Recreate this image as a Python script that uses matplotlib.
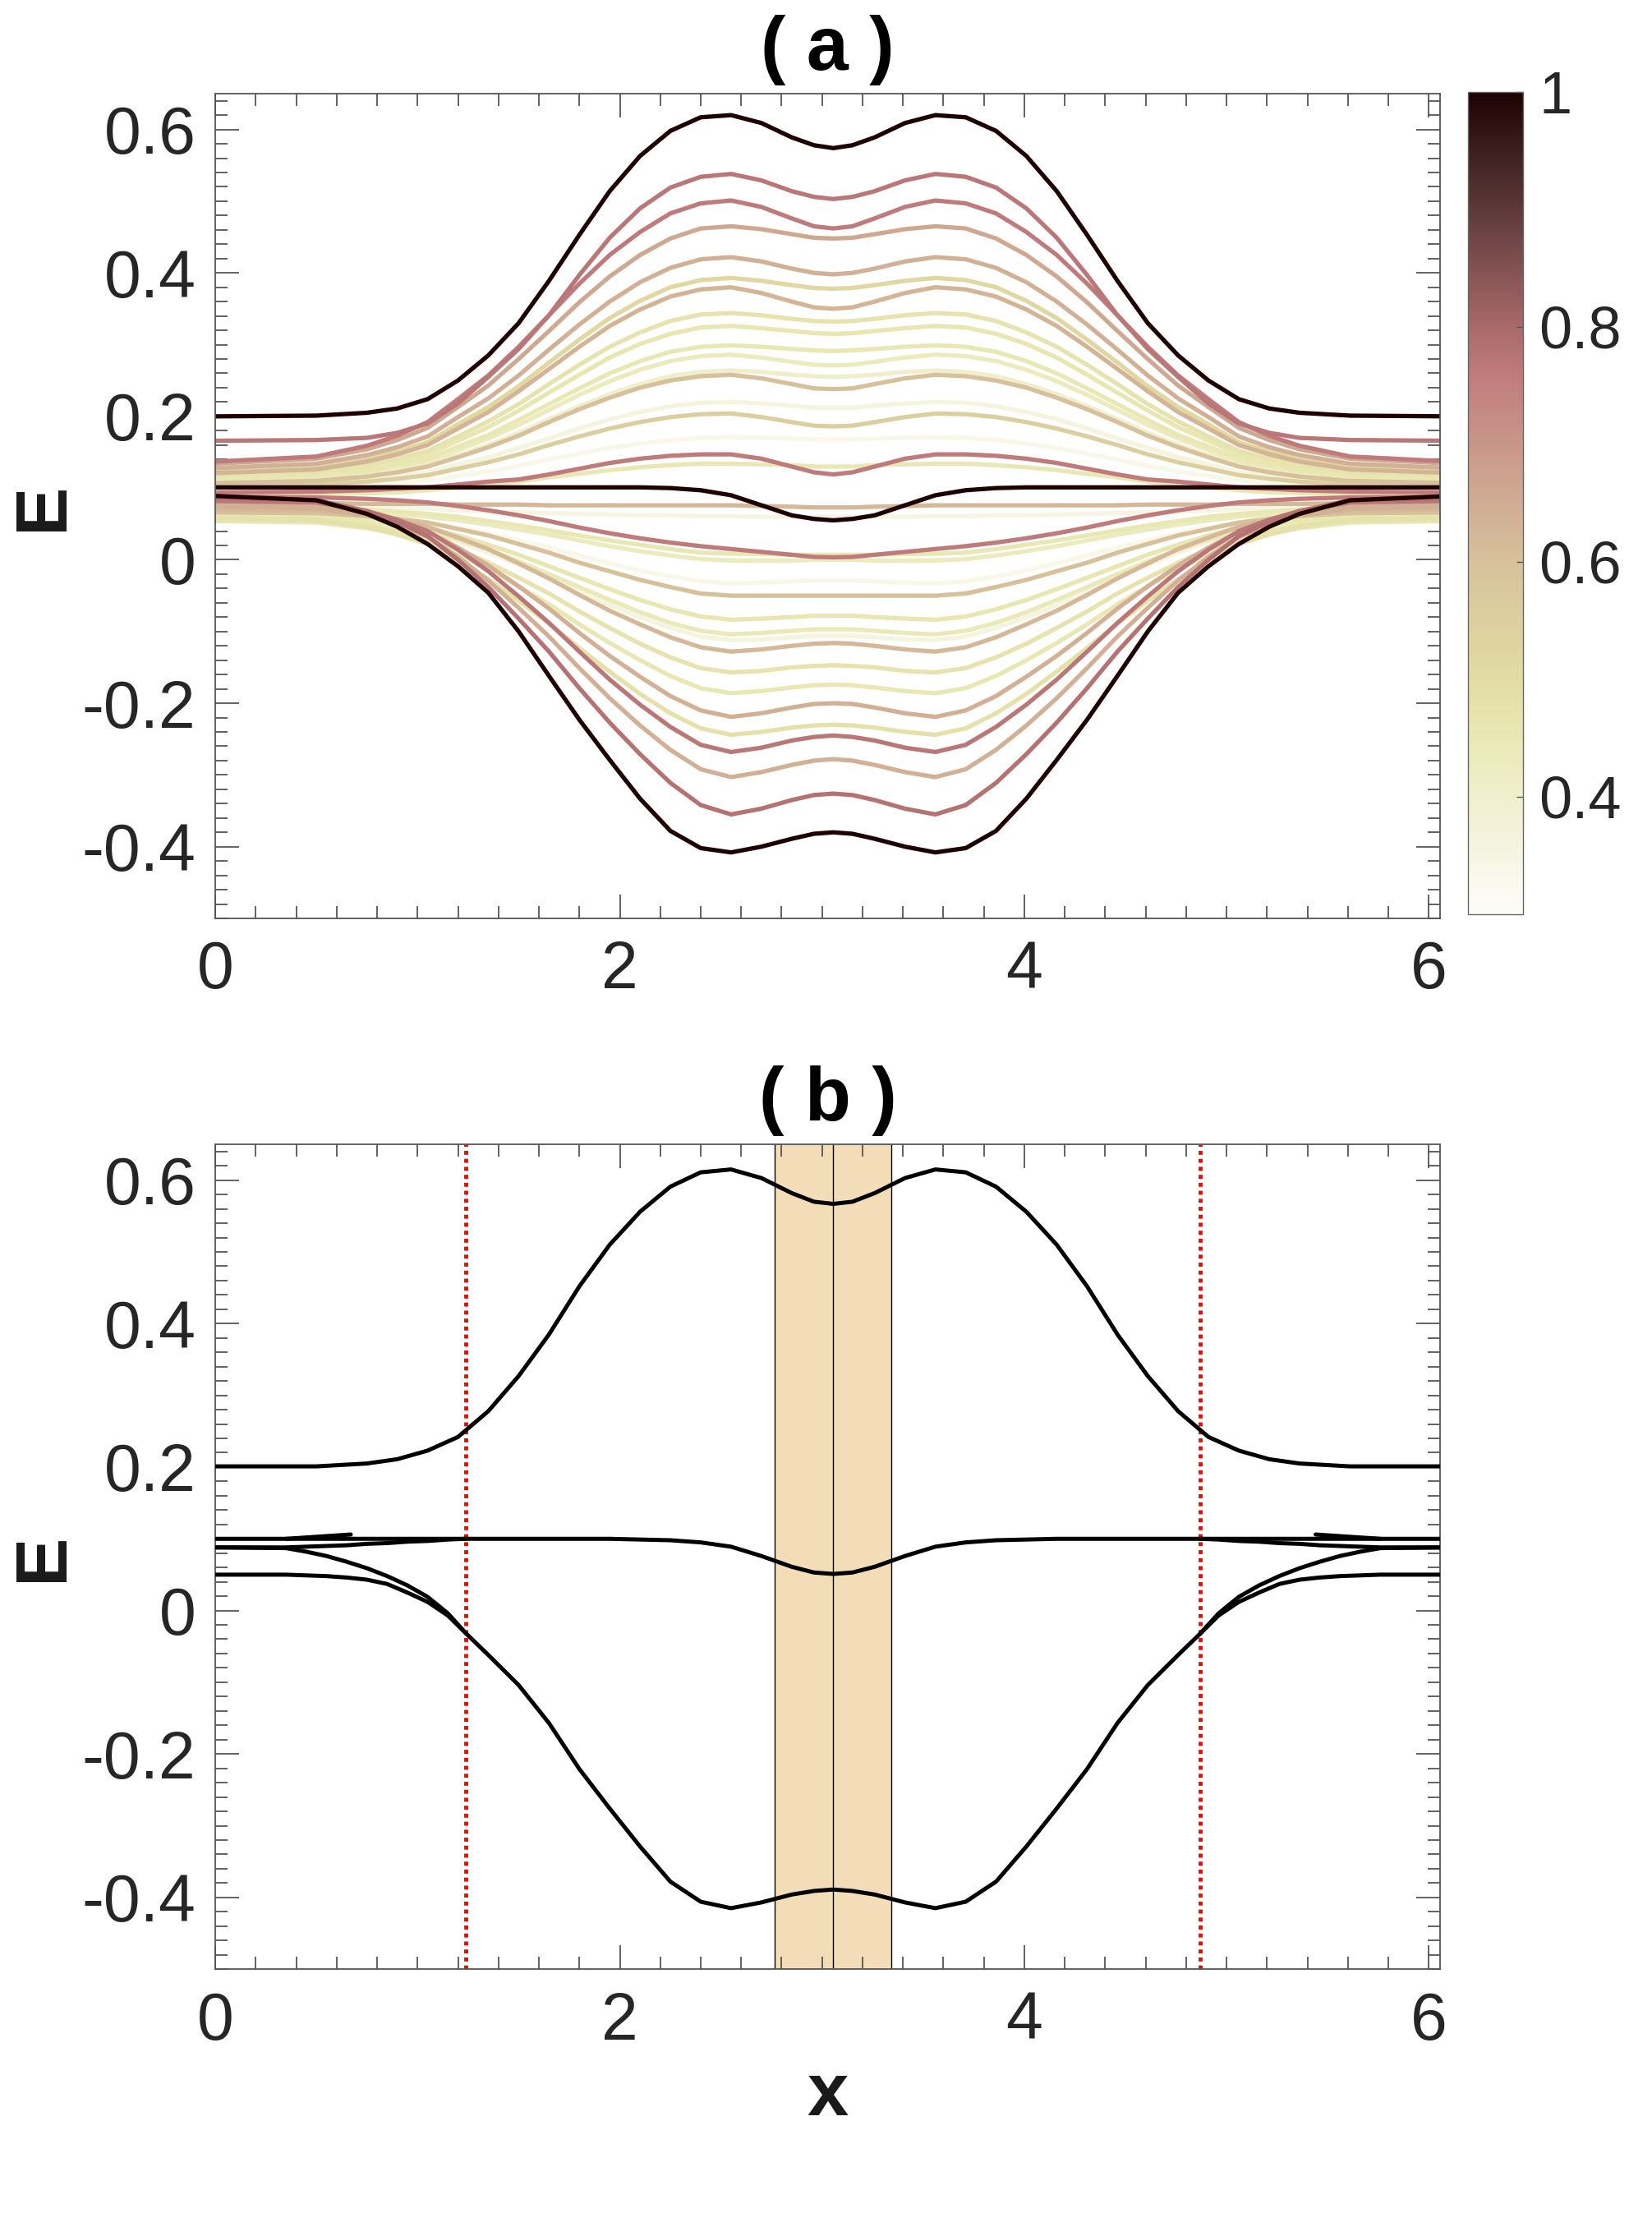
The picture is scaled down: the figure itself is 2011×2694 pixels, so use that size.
import numpy as np
import matplotlib
matplotlib.use('Agg')
import matplotlib.pyplot as plt
from matplotlib.colors import LinearSegmentedColormap, Normalize
from matplotlib.ticker import MultipleLocator, FixedLocator, FixedFormatter
from matplotlib.cm import ScalarMappable

plt.rcParams['font.family'] = ['Liberation Sans', 'DejaVu Sans']
plt.rcParams['axes.unicode_minus'] = False

# curves are symmetric about x = X_CENTER, values read on the left half
X_CENTER = 3.055
X_HALF = [0.0, 0.5, 0.75, 0.9, 1.05, 1.2, 1.35, 1.5, 1.65, 1.8, 1.95,
          2.1, 2.25, 2.4, 2.55, 2.7, 2.85, 2.96, 3.055]

# ---- panel (a): colour value of each curve and E at X_HALF ----
upper_w = [1.00, 0.77, 0.76, 0.66, 0.64, 0.52, 0.63, 0.47, 0.46,
           0.45, 0.43, 0.40, 0.60, 0.36, 0.55, 0.34, 0.76, 0.45]
upper_E = [
    [0.200, 0.201, 0.205, 0.211, 0.224, 0.250, 0.285, 0.330, 0.389, 0.453, 0.514, 0.563, 0.598, 0.617, 0.620, 0.609, 0.589, 0.578, 0.574],
    [0.166, 0.167, 0.170, 0.177, 0.190, 0.218, 0.255, 0.294, 0.341, 0.397, 0.449, 0.490, 0.519, 0.534, 0.538, 0.529, 0.514, 0.506, 0.503],
    [0.137, 0.144, 0.159, 0.173, 0.192, 0.224, 0.257, 0.297, 0.341, 0.385, 0.425, 0.457, 0.483, 0.497, 0.501, 0.492, 0.476, 0.465, 0.462],
    [0.134, 0.141, 0.154, 0.167, 0.184, 0.213, 0.243, 0.280, 0.319, 0.359, 0.395, 0.425, 0.448, 0.462, 0.465, 0.461, 0.454, 0.449, 0.448],
    [0.128, 0.134, 0.146, 0.157, 0.172, 0.199, 0.225, 0.257, 0.293, 0.328, 0.360, 0.387, 0.407, 0.419, 0.422, 0.416, 0.406, 0.400, 0.398],
    [0.124, 0.129, 0.140, 0.151, 0.164, 0.189, 0.213, 0.242, 0.275, 0.307, 0.337, 0.361, 0.380, 0.390, 0.393, 0.389, 0.383, 0.379, 0.378],
    [0.121, 0.126, 0.137, 0.147, 0.160, 0.183, 0.206, 0.235, 0.266, 0.297, 0.326, 0.349, 0.367, 0.377, 0.380, 0.372, 0.360, 0.352, 0.350],
    [0.118, 0.123, 0.132, 0.141, 0.152, 0.172, 0.193, 0.217, 0.245, 0.272, 0.297, 0.317, 0.333, 0.342, 0.344, 0.341, 0.336, 0.333, 0.332],
    [0.115, 0.119, 0.128, 0.136, 0.147, 0.166, 0.185, 0.208, 0.233, 0.258, 0.282, 0.301, 0.315, 0.324, 0.326, 0.323, 0.319, 0.316, 0.315],
    [0.113, 0.117, 0.124, 0.132, 0.141, 0.158, 0.174, 0.195, 0.217, 0.239, 0.260, 0.277, 0.290, 0.297, 0.299, 0.297, 0.294, 0.292, 0.291],
    [0.111, 0.115, 0.122, 0.129, 0.137, 0.153, 0.169, 0.188, 0.209, 0.230, 0.249, 0.265, 0.277, 0.284, 0.286, 0.282, 0.276, 0.272, 0.271],
    [0.109, 0.112, 0.118, 0.125, 0.132, 0.146, 0.160, 0.177, 0.196, 0.214, 0.231, 0.245, 0.256, 0.262, 0.264, 0.262, 0.258, 0.256, 0.255],
    [0.107, 0.110, 0.116, 0.122, 0.130, 0.143, 0.157, 0.173, 0.192, 0.210, 0.226, 0.240, 0.250, 0.256, 0.258, 0.253, 0.245, 0.239, 0.238],
    [0.105, 0.107, 0.112, 0.117, 0.122, 0.133, 0.143, 0.156, 0.169, 0.183, 0.196, 0.206, 0.214, 0.219, 0.220, 0.218, 0.215, 0.212, 0.212],
    [0.103, 0.105, 0.109, 0.113, 0.118, 0.127, 0.136, 0.147, 0.160, 0.172, 0.183, 0.192, 0.199, 0.203, 0.204, 0.199, 0.192, 0.187, 0.186],
    [0.100, 0.101, 0.104, 0.107, 0.111, 0.117, 0.123, 0.131, 0.140, 0.148, 0.156, 0.162, 0.167, 0.170, 0.171, 0.170, 0.169, 0.168, 0.168],
    [0.094, 0.095, 0.097, 0.099, 0.101, 0.105, 0.109, 0.112, 0.119, 0.127, 0.135, 0.141, 0.145, 0.147, 0.147, 0.141, 0.130, 0.122, 0.119],
    [0.090, 0.091, 0.093, 0.094, 0.097, 0.101, 0.105, 0.109, 0.115, 0.120, 0.125, 0.129, 0.132, 0.134, 0.134, 0.133, 0.132, 0.130, 0.130],
]

middle_w = [1.00, 0.62, 0.35]
middle_E = [
    [0.101, 0.101, 0.101, 0.101, 0.101, 0.101, 0.101, 0.101, 0.101, 0.101, 0.101, 0.101, 0.100, 0.097, 0.090, 0.076, 0.062, 0.057, 0.055],
    [0.079, 0.079, 0.078, 0.078, 0.078, 0.077, 0.077, 0.077, 0.076, 0.076, 0.076, 0.076, 0.076, 0.076, 0.076, 0.075, 0.074, 0.073, 0.073],
    [0.074, 0.074, 0.073, 0.072, 0.071, 0.069, 0.067, 0.066, 0.065, 0.064, 0.063, 0.062, 0.062, 0.061, 0.061, 0.060, 0.060, 0.060, 0.060],
]

lower_w = [0.76, 0.45, 0.43, 0.34, 0.60, 0.46, 0.44, 0.36, 0.62,
           0.47, 0.45, 0.64, 0.48, 0.77, 0.64, 0.78, 1.00]
lower_E = [
    [0.088, 0.087, 0.085, 0.083, 0.080, 0.075, 0.069, 0.062, 0.054, 0.045, 0.037, 0.030, 0.024, 0.019, 0.015, 0.011, 0.007, 0.004, 0.0035],
    [0.072, 0.072, 0.070, 0.067, 0.064, 0.060, 0.054, 0.048, 0.041, 0.034, 0.027, 0.021, 0.015, 0.010, 0.0085, 0.008, 0.007, 0.007, 0.007],
    [0.068, 0.068, 0.065, 0.063, 0.060, 0.055, 0.049, 0.042, 0.035, 0.027, 0.019, 0.012, 0.006, 0.001, -0.001, -0.001, -0.001, 0.000, 0.000],
    [0.064, 0.063, 0.060, 0.057, 0.052, 0.045, 0.037, 0.027, 0.017, 0.006, -0.005, -0.015, -0.023, -0.030, -0.033, -0.032, -0.030, -0.029, -0.029],
    [0.066, 0.065, 0.061, 0.057, 0.052, 0.043, 0.034, 0.022, 0.010, -0.004, -0.016, -0.028, -0.038, -0.047, -0.050, -0.050, -0.050, -0.050, -0.050],
    [0.062, 0.061, 0.056, 0.051, 0.045, 0.034, 0.021, 0.007, -0.009, -0.025, -0.041, -0.056, -0.069, -0.079, -0.0835, -0.082, -0.080, -0.078, -0.078],
    [0.060, 0.059, 0.053, 0.048, 0.040, 0.028, 0.014, -0.002, -0.020, -0.038, -0.056, -0.073, -0.088, -0.099, -0.104, -0.102, -0.099, -0.097, -0.097],
    [0.058, 0.057, 0.051, 0.045, 0.038, 0.025, 0.010, -0.007, -0.025, -0.044, -0.063, -0.080, -0.095, -0.107, -0.112, -0.111, -0.108, -0.106, -0.106],
    [0.070, 0.069, 0.062, 0.055, 0.046, 0.031, 0.015, -0.005, -0.026, -0.049, -0.071, -0.090, -0.108, -0.122, -0.128, -0.125, -0.120, -0.117, -0.116],
    [0.056, 0.055, 0.048, 0.040, 0.030, 0.015, -0.004, -0.025, -0.047, -0.072, -0.095, -0.117, -0.136, -0.151, -0.157, -0.155, -0.150, -0.148, -0.147],
    [0.054, 0.052, 0.044, 0.036, 0.025, 0.007, -0.013, -0.037, -0.062, -0.090, -0.116, -0.140, -0.162, -0.179, -0.186, -0.183, -0.178, -0.175, -0.174],
    [0.074, 0.072, 0.062, 0.052, 0.039, 0.017, -0.008, -0.037, -0.068, -0.102, -0.134, -0.163, -0.190, -0.210, -0.219, -0.214, -0.206, -0.201, -0.200],
    [0.058, 0.056, 0.046, 0.035, 0.022, -0.001, -0.027, -0.057, -0.089, -0.123, -0.156, -0.187, -0.214, -0.235, -0.244, -0.240, -0.234, -0.231, -0.230],
    [0.082, 0.080, 0.068, 0.056, 0.040, 0.014, -0.016, -0.051, -0.088, -0.128, -0.167, -0.202, -0.233, -0.258, -0.268, -0.262, -0.252, -0.247, -0.245],
    [0.078, 0.075, 0.063, 0.049, 0.032, 0.004, -0.029, -0.067, -0.107, -0.151, -0.193, -0.231, -0.265, -0.292, -0.303, -0.296, -0.286, -0.280, -0.278],
    [0.086, 0.083, 0.068, 0.053, 0.033, 0.000, -0.038, -0.082, -0.128, -0.179, -0.227, -0.271, -0.311, -0.342, -0.355, -0.347, -0.335, -0.328, -0.326],
    [0.089, 0.083, 0.064, 0.046, 0.022, -0.009, -0.046, -0.100, -0.162, -0.223, -0.279, -0.333, -0.378, -0.402, -0.408, -0.400, -0.389, -0.382, -0.380],
]

# ---- panel (b) ----
b_top = [0.201, 0.201, 0.205, 0.211, 0.223, 0.242, 0.278, 0.327, 0.385, 0.452, 0.510, 0.556, 0.591, 0.611, 0.615, 0.603, 0.582, 0.570, 0.567]
b_mid = [0.100, 0.100, 0.100, 0.100, 0.100, 0.100, 0.100, 0.100, 0.100, 0.100, 0.100, 0.099, 0.098, 0.095, 0.089, 0.076, 0.061, 0.053, 0.051]
b_low_x = [1.24, 1.35, 1.5, 1.65, 1.8, 1.95, 2.1, 2.25, 2.4, 2.55, 2.7, 2.85, 2.96, 3.055]
b_low = [-0.032, -0.062, -0.104, -0.157, -0.221, -0.276, -0.329, -0.378, -0.406, -0.415, -0.407, -0.396, -0.391, -0.389]
b_branch_x = [0.0, 0.35, 0.45, 0.55, 0.65, 0.75, 0.85, 0.95, 1.05, 1.15, 1.24]
b_branch_up = [0.088, 0.088, 0.089, 0.090, 0.091, 0.093, 0.094, 0.096, 0.097, 0.099, 0.100]
b_branch_dn = [0.088, 0.087, 0.082, 0.076, 0.068, 0.059, 0.048, 0.035, 0.019, -0.004, -0.032]
b_branch_lo = [0.050, 0.050, 0.049, 0.048, 0.046, 0.043, 0.037, 0.025, 0.012, -0.007, -0.032]
b_spike_x = [0.35, 0.67]
b_spike = [0.100, 0.106]
red_lines = [1.24, 4.87]
band = [2.767, 3.341]

# colour map (value, colour)
cmap_pts = [(0.30, '#fdfdf8'), (0.35, '#f6f5e3'), (0.40, '#f0efcc'), (0.45, '#e9e8b4'),
            (0.50, '#e2dca4'), (0.55, '#dccf9f'), (0.60, '#d7c19b'), (0.65, '#d0ac93'),
            (0.70, '#c9968a'), (0.76, '#c07b7b'), (0.80, '#a86a6a'), (0.85, '#835252'),
            (0.90, '#5e3a3a'), (0.95, '#3c1f1f'), (1.00, '#1e0202')]
cmap = LinearSegmentedColormap.from_list(
    'wt', [((v - 0.3) / 0.7, c) for v, c in cmap_pts])
norm = Normalize(0.3, 1.0)


def mirror(xs, ys):
    xs = np.asarray(xs, float)
    ys = np.asarray(ys, float)
    xr = 2 * X_CENTER - xs[::-1]
    return np.concatenate([xs, xr[1:]]), np.concatenate([ys, ys[::-1][1:]])


def mirror_side(xs, ys):
    xs = np.asarray(xs, float)
    return 2 * X_CENTER - xs, np.asarray(ys, float)


def style_axes(ax):
    ax.set_xlim(0, 6.055)
    ax.set_ylim(-0.5, 0.65)
    ax.xaxis.set_major_locator(FixedLocator([0, 2, 4, 6]))
    ax.xaxis.set_major_formatter(FixedFormatter(['0', '2', '4', '6']))
    ax.xaxis.set_minor_locator(MultipleLocator(0.2))
    ax.yaxis.set_major_locator(FixedLocator([-0.4, -0.2, 0, 0.2, 0.4, 0.6]))
    ax.yaxis.set_major_formatter(FixedFormatter(['-0.4', '-0.2', '0', '0.2', '0.4', '0.6']))
    ax.yaxis.set_minor_locator(MultipleLocator(0.02))
    ax.tick_params(which='both', direction='in', top=True, right=True,
                   color='#555555', width=1.3)
    ax.tick_params(which='major', length=21)
    ax.tick_params(which='minor', length=11)
    ax.tick_params(axis='x', which='major', pad=19, labelsize=58, labelcolor='#262626')
    ax.tick_params(axis='y', which='major', pad=17, labelsize=58, labelcolor='#262626')
    for s in ax.spines.values():
        s.set_color('#555555')
        s.set_linewidth(1.3)
    ax.set_ylabel('E', fontsize=64, fontweight='bold', color='#1a1a1a')
    ax.yaxis.set_label_coords(-0.112, 0.5)


fig = plt.figure(figsize=(20.11, 26.94), dpi=100)
ax_a = fig.add_axes([0.1303, 0.5850, 0.7414, 0.3727])
ax_b = fig.add_axes([0.1303, 0.1102, 0.7414, 0.3727])
cax = fig.add_axes([0.8884, 0.5870, 0.0335, 0.3716])

# panel (a): lightest curves first, darkest on top
curves = list(zip(upper_w, upper_E)) + list(zip(middle_w, middle_E)) + list(zip(lower_w, lower_E))
curves.sort(key=lambda t: t[0])
for w, e in curves:
    xx, yy = mirror(X_HALF, e)
    ax_a.plot(xx, yy, color=cmap(norm(w)), lw=3.8, solid_capstyle='round',
              solid_joinstyle='round', zorder=2)
style_axes(ax_a)
ax_a.set_title('( a )', fontsize=66, fontweight='bold', pad=21)

# colour bar
cb = fig.colorbar(ScalarMappable(norm=norm, cmap=cmap), cax=cax)
cb.set_ticks([0.4, 0.6, 0.8, 1.0])
cb.set_ticklabels(['0.4', '0.6', '0.8', '1'])
cb.ax.tick_params(direction='in', length=6, width=1, color='#555555',
                  labelsize=52, labelcolor='#262626', pad=14)
cb.outline.set_edgecolor('#666666')
cb.outline.set_linewidth(1.0)

# panel (b)
ax_b.axvspan(band[0], band[1], facecolor='#f2ddb8', edgecolor='none', zorder=0)
for xv in [band[0], X_CENTER, band[1]]:
    ax_b.axvline(xv, color='black', lw=1.0, zorder=1)
for xv in red_lines:
    ax_b.axvline(xv, color='#ff0000', lw=3.5, linestyle=(0, (1, 1)), zorder=1)

kw = dict(color='black', lw=3.6, solid_capstyle='round', solid_joinstyle='round', zorder=3)
for e in [b_top, b_mid]:
    xx, yy = mirror(X_HALF, e)
    ax_b.plot(xx, yy, **kw)
xx, yy = mirror(b_low_x, b_low)
ax_b.plot(xx, yy, **kw)
for e in [b_branch_up, b_branch_dn, b_branch_lo]:
    ax_b.plot(b_branch_x, e, **kw)
    ax_b.plot(*mirror_side(b_branch_x, e), **kw)
ax_b.plot(b_spike_x, b_spike, **kw)
ax_b.plot(*mirror_side(b_spike_x, b_spike), **kw)

style_axes(ax_b)
ax_b.set_title('( b )', fontsize=66, fontweight='bold', pad=21)
ax_b.set_xlabel('x', fontsize=65, fontweight='bold', color='#1a1a1a')
ax_b.xaxis.set_label_coords(0.5, -0.111)

fig.savefig('out.png', dpi=100)
